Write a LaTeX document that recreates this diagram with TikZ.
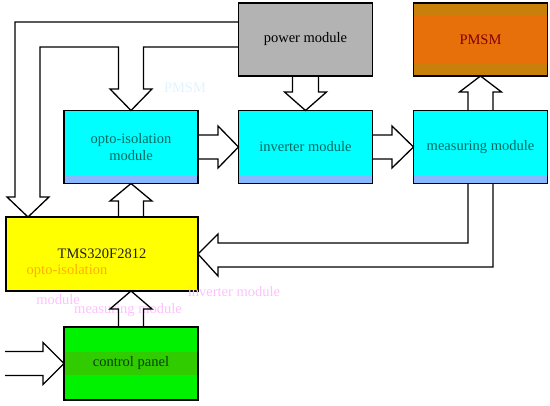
\documentclass[tikz,border=0pt]{standalone}
\usepackage{fontspec}
\setmainfont{Liberation Serif}
\usetikzlibrary{calc}
\definecolor{cyanf}{HTML}{00FFFF}
\definecolor{cyanstrip}{HTML}{88B8FF}
\definecolor{grayf}{HTML}{B3B3B3}
\definecolor{orangef}{HTML}{E8700A}
\definecolor{orangeband}{HTML}{C8800A}
\definecolor{yellowf}{HTML}{FFFF00}
\definecolor{greenf}{HTML}{00F200}
\definecolor{greenband}{HTML}{30CC00}
\definecolor{tealtxt}{HTML}{006A60}
\definecolor{redtxt}{HTML}{800000}
\definecolor{greentxt}{HTML}{0A400A}
\definecolor{ghostpink}{HTML}{FFC0FF}
\definecolor{ghostorange}{HTML}{FFB000}
\definecolor{ghostcyan}{HTML}{E0F4FF}
\tikzset{
  box/.style={draw=black, line width=1.3pt, inner sep=0pt, outer sep=0pt,
    minimum width=134pt, minimum height=73pt, align=center,
    font=\fontsize{14.5}{17}\selectfont},
  cyanbox/.style={box, fill=cyanf, text=tealtxt},
  graybox/.style={box, fill=grayf, text=black},
  orangebox/.style={box, fill=orangef, text=redtxt},
  yellowbox/.style={box, fill=yellowf, text=black!88, minimum width=192pt, minimum height=74pt},
  greenbox/.style={box, fill=greenf, text=greentxt},
  frame/.style={draw=black, line width=1.3pt},
  blk/.style={draw=black, line width=1.3pt, line join=miter},
  ghost/.style={font=\fontsize{14.5}{17}\selectfont, inner sep=0pt}
}
\begin{document}
\begin{tikzpicture}[x=1pt, y=-1pt]
\useasboundingbox (0,0) rectangle (550,406);
% boxes
\node[graybox] (pow) at (305.5,39.5) {power module};
\node[orangebox] (pmsm) at (480.5,39.5) {PMSM};
\node[cyanbox] (opto) at (131,147) {opto-isolation\\module};
\node[cyanbox] (inv) at (305.5,147) {inverter module};
\node[cyanbox] (meas) at (480.5,147) {measuring module};
\node[yellowbox] (tms) at (102,254) {TMS320F2812};
\node[greenbox] (ctrl) at (131,363.5) {control panel};
% shading bands of the boxes
\foreach \b in {opto,inv,meas}{
  \fill[cyanstrip] ($(\b.south west)+(0,-7)$) rectangle (\b.south east);
  \draw[frame] (\b.north west) rectangle (\b.south east);
}
\fill[orangeband] (pmsm.north west) rectangle ($(pmsm.north east)+(0,12)$);
\fill[orangeband] ($(pmsm.south west)+(0,-13)$) rectangle (pmsm.south east);
\draw[frame] (pmsm.north west) rectangle (pmsm.south east);
\fill[greenband] ($(ctrl.west)+(0,-11)$) rectangle ($(ctrl.east)+(0,12)$);
\node[text=greentxt, font=\fontsize{14.5}{17}\selectfont, inner sep=0pt] (ctrltxt) at (ctrl.center) {control panel};
\draw[frame] (ctrl.north west) rectangle (ctrl.south east);
% ghost labels
\node[ghost, text=ghostcyan] (g1) at (185,88) {PMSM};
\node[ghost, text=ghostorange] (g2) at (67,271) {opto-isolation};
\node[ghost, text=ghostpink] (g3) at (58,300) {module};
\node[ghost, text=ghostpink] (g4) at (128,310) {measuring module};
\node[ghost, text=ghostpink] (g5) at (234,292) {inverter module};
% power module -> TMS and opto (branching block arrow)
\draw[blk] (pow.west |- 0,22) -- (15,22) -- (15,197) -- (7,197) -- (tms.north -| 28,0)
  -- (49,197) -- (40,197) -- (40,47) -- (118.5,47) -- (118.5,89) -- (110,89) -- (opto.north)
  -- (152,89) -- (143.5,89) -- (143.5,47) -- (pow.west |- 0,47);
% power -> inverter
\draw[blk] (pow.south -| 292.5,0) -- (292.5,92) -- (284.5,92) -- (inv.north)
  -- (326.5,92) -- (318.5,92) -- (pow.south -| 318.5,0);
% opto -> inverter
\draw[blk] (opto.east |- 0,135) -- (218,135) -- (218,126) -- (inv.west)
  -- (218,168) -- (218,159) -- (opto.east |- 0,159);
% inverter -> measuring
\draw[blk] (inv.east |- 0,135) -- (392,135) -- (392,126) -- (meas.west)
  -- (392,168) -- (392,159) -- (inv.east |- 0,159);
% measuring -> PMSM
\draw[blk] (meas.north -| 468,0) -- (468,92) -- (459.5,92) -- (pmsm.south)
  -- (501.5,92) -- (493,92) -- (meas.north -| 493,0);
% measuring -> TMS
\draw[blk] (meas.south -| 468,0) -- (468,243) -- (218,243) -- (218,234) -- (tms.east)
  -- (218,276) -- (218,267) -- (493,267) -- (meas.south -| 493,0);
% TMS -> opto
\draw[blk] (tms.north -| 118.5,0) -- (118.5,201) -- (110,201) -- (opto.south)
  -- (152,201) -- (143.5,201) -- (tms.north -| 143.5,0);
% control -> TMS
\draw[blk] (ctrl.north -| 118.5,0) -- (118.5,309) -- (110,309) -- (tms.south -| 131,0)
  -- (152,309) -- (143.5,309) -- (ctrl.north -| 143.5,0);
% input -> control
\coordinate (inA) at (5,351.5);
\coordinate (inB) at (5,375.5);
\draw[blk] (inA) -- (43,351.5) -- (43,342.5) -- (ctrl.west)
  -- (43,384.5) -- (43,375.5) -- (inB);
\end{tikzpicture}
\end{document}
